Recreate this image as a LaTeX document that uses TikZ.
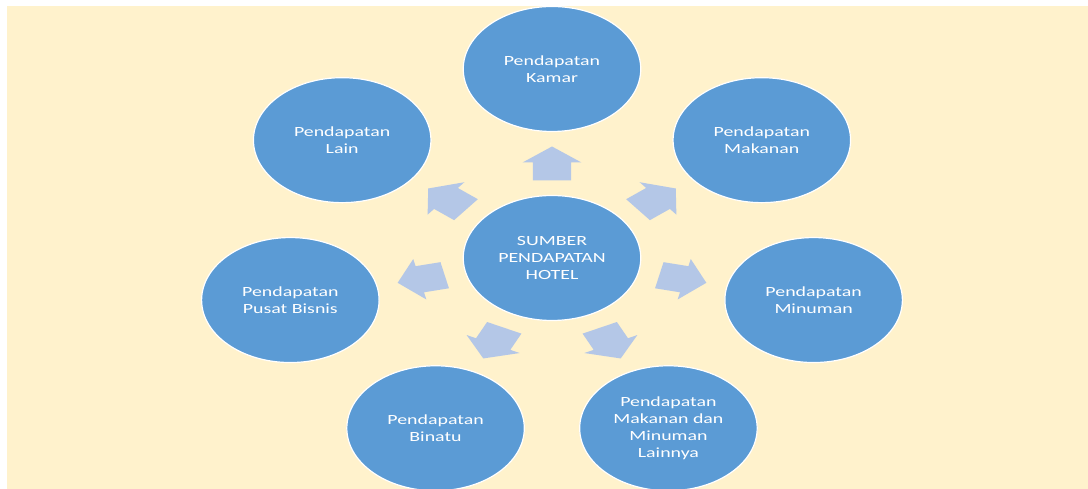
\documentclass[tikz,border=0pt]{standalone}
\usepackage{fontspec}
\setmainfont{Carlito}
\definecolor{bgcream}{HTML}{FFF2CC}
\definecolor{ellblue}{HTML}{5B9BD5}
\definecolor{arrblue}{HTML}{B4C7E7}
\begin{document}
\begin{tikzpicture}[x=1pt,y=1pt,
  ell/.style={circle, fill=ellblue, draw=white, line width=1.2pt,
    minimum size=125pt, inner sep=0pt, align=center, text=white,
    font=\fontsize{14}{17}\selectfont, transform shape},
  radarrow/.pic={\fill[arrblue] (-17,-13.4) -- (1,-13.4) -- (1,-20.75) -- (17,0)
     -- (1,20.75) -- (1,13.4) -- (-17,13.4) -- cycle;}]
\fill[white] (0,0) rectangle (1088,489);
\fill[bgcream] (7,0) rectangle (1088,483);
\useasboundingbox (0,0) rectangle (1088,489);
\begin{scope}[shift={(552,231)}, xscale=1.42]
  \node[ell] (hub) at (0,0) {SUMBER\\PENDAPATAN\\HOTEL};
  \node[ell] (kamar) at (90:189) {Pendapatan\\Kamar};
  \node[ell] (makanan) at (38.571:189) {Pendapatan\\Makanan};
  \node[ell] (minuman) at (-12.857:189) {Pendapatan\\Minuman};
  \node[ell] (mml) at (-64.286:189) {Pendapatan\\Makanan dan\\Minuman\\Lainnya};
  \node[ell] (binatu) at (-115.714:189) {Pendapatan\\Binatu};
  \node[ell] (pusat) at (-167.143:189) {Pendapatan\\Pusat Bisnis};
  \node[ell] (lain) at (141.429:189) {Pendapatan\\Lain};
  \foreach \a in {90,38.571,-12.857,-64.286,-115.714,-167.143,141.429}
    \pic[transform shape, rotate=\a] at (\a:94.5) {radarrow};
\end{scope}
\end{tikzpicture}
\end{document}
